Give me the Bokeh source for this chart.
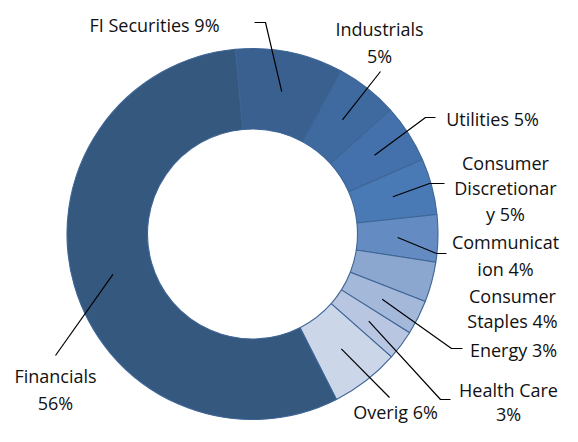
import numpy as np
from bokeh.plotting import figure
from bokeh.models import Range1d, ColumnDataSource
from bokeh.core.properties import value
from bokeh.embed import file_html
from bokeh.resources import INLINE

# ---- data (clockwise from the top) ----
categories = ["FI Securities", "Industrials", "Utilities", "Consumer Discretionary",
              "Communication", "Consumer Staples", "Energy", "Health Care",
              "Overig", "Financials"]
shares = [9.4, 5.4, 5.1, 4.9, 4.1, 3.5, 3.0, 2.6, 6.0, 56.0]
pct_labels = ["9%", "5%", "5%", "5%", "4%", "4%", "3%", "3%", "6%", "56%"]
label_lines = [
    ["FI Securities 9%"],
    ["Industrials", "5%"],
    ["Utilities 5%"],
    ["Consumer", "Discretionar", "y 5%"],
    ["Communicat", "ion 4%"],
    ["Consumer", "Staples 4%"],
    ["Energy 3%"],
    ["Health Care", "3%"],
    ["Overig 6%"],
    ["Financials", "56%"],
]
colors = ["#3A6090", "#3F6A9F", "#4471AB", "#4A7AB6", "#648CC3",
          "#8BA6CF", "#A4B8DA", "#B8C6E1", "#CBD6E8", "#35587F"]

# ---- layout (picture pixel coordinates, origin top-left) ----
W, H = 562, 426
cx, cy = 252, 233.5
r_out, r_in = 185.5, 105
first_angle = -5.3  # degrees clockwise from 12 o'clock

# label centre x, first-line centre y, line spacing
label_pos = [(154, 24, 26), (379, 28, 27), (492, 118, 26), (505, 162, 25.5),
             (505, 241, 27), (512, 295, 25), (513, 349, 26), (508, 389, 24),
             (395, 411, 26), (55, 375, 27)]
# leader elbow points after the slice anchor; None = no leader
leader_pts = [
    [(265, 22), (254, 22)],
    [(380, 71)],
    [(425, 117), (435, 117)],
    [(429, 183), (444, 183)],
    [(436, 253), (446, 253)],
    None,
    [(451, 348), (462, 348)],
    [(440, 399), (450, 399)],
    [(389, 397)],
    [(55, 355)],
]


def Y(py):
    return H - py


fr = np.array(shares, dtype=float) / sum(shares)
cum = first_angle + np.concatenate([[0], np.cumsum(fr)]) * 360.0
starts_cw = cum[:-1]
ends_cw = cum[1:]
mids_cw = (starts_cw + ends_cw) / 2

p = figure(width=W, height=H, output_backend="svg", toolbar_location=None,
           x_range=Range1d(0, W), y_range=Range1d(0, H),
           min_border=0, outline_line_color=None)
p.axis.visible = False
p.grid.visible = False
p.background_fill_color = "white"
p.border_fill_color = "white"

src = ColumnDataSource(dict(
    start=np.radians(90 - starts_cw), end=np.radians(90 - ends_cw),
    color=colors, cat=categories))
p.annular_wedge(x=cx, y=Y(cy), inner_radius=r_in, outer_radius=r_out,
                start_angle="start", end_angle="end", direction="clock",
                fill_color="color", line_color="#3E6596", line_width=1.1,
                source=src)

# leader lines
xs, ys = [], []
r_mid = (r_in + r_out) / 2
for m, pts in zip(mids_cw, leader_pts):
    if pts is None:
        continue
    a = np.radians(m)
    x0 = cx + r_mid * np.sin(a)
    y0 = cy - r_mid * np.cos(a)
    xs.append([x0] + [q[0] for q in pts])
    ys.append([Y(y0)] + [Y(q[1]) for q in pts])
p.multi_line(xs=xs, ys=ys, line_color="black", line_width=1.2)

# labels
tx, ty, tt = [], [], []
for lines, (lx, ly, sp) in zip(label_lines, label_pos):
    for i, t in enumerate(lines):
        tx.append(lx)
        ty.append(Y(ly + i * sp))
        tt.append(t)
p.text(x=tx, y=ty, text=tt, text_align="center", text_baseline="middle",
       text_font=value("Open Sans"), text_font_size="18px", text_color="#111111")

open("out.html", "w").write(file_html(p, INLINE))
